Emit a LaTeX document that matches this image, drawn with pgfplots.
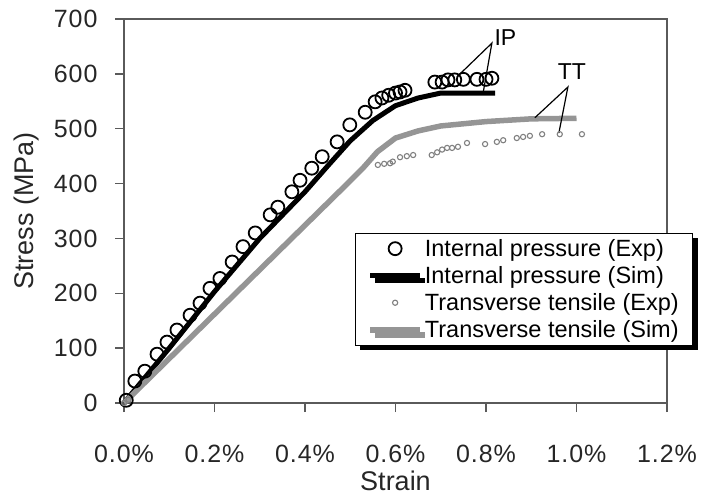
\documentclass[border=0pt]{standalone}
\usepackage{pgfplots}
\pgfplotsset{compat=1.18}
\usepackage{fontspec}
\setmainfont{Liberation Sans}
\usetikzlibrary{shadows}
\definecolor{axisgray}{HTML}{5A5A5A}
\definecolor{ttgray}{HTML}{959595}
\definecolor{ttexp}{HTML}{808080}
\begin{document}
\begin{tikzpicture}
\begin{axis}[
  scale only axis,
  width=543pt, height=384pt,
  xmin=0, xmax=1.2, ymin=0, ymax=700,
  xtick={0,0.2,0.4,0.6,0.8,1.0,1.2},
  xticklabels={0.0\%,0.2\%,0.4\%,0.6\%,0.8\%,1.0\%,1.2\%},
  ytick={0,100,200,300,400,500,600,700},
  /pgf/number format/assume math mode=true,
  tick pos=left,
  tick align=outside,
  major tick length=9pt,
  axis line style={axisgray, line width=1.3pt},
  every tick/.style={axisgray, line width=1.3pt},
  tick label style={font=\fontsize{25}{30}\selectfont\addfontfeatures{LetterSpace=4}, text=black!85},
  xticklabel style={yshift=-30pt},
  yticklabel style={xshift=-14pt},
  xlabel={Strain},
  ylabel={Stress (MPa)},
  every axis x label/.style={at={(axis description cs:0.5,-0.203)},anchor=center,font=\fontsize{27}{32}\selectfont, text=black!85},
  every axis y label/.style={at={(axis description cs:-0.179,0.5)},rotate=90,anchor=center,font=\fontsize{27}{32}\selectfont, text=black!85},
  clip=false,
  legend cell align=left,
  legend image code/.code={\draw[mark repeat=2,mark phase=2,#1] plot coordinates {(0pt,0pt) (25pt,0pt) (50pt,0pt)};},
  legend style={
    at={(rel axis cs:0.4254,0.4427)}, anchor=north west,
    draw=black, line width=0.8pt, fill=white,
    drop shadow={shadow xshift=5pt, shadow yshift=-5pt, fill=black, opacity=1},
    font=\fontsize{23.5}{28}\selectfont,
    inner xsep=12pt, inner ysep=4pt,
    row sep=4.5pt,
    /tikz/every even column/.append style={column sep=4pt},
  },
]
\addplot[only marks, mark=o, mark size=6.5pt, mark options={black, line width=1.8pt}] coordinates {
(0.005,5) (0.024,40) (0.046,58) (0.073,89) (0.095,111) (0.117,133) (0.146,160)
(0.168,182) (0.19,209) (0.212,227) (0.239,257) (0.263,285) (0.29,310) (0.323,343)
(0.34,357) (0.371,385) (0.389,406) (0.415,428) (0.438,449) (0.471,476) (0.499,507)
(0.533,530) (0.555,549) (0.57,556) (0.585,561) (0.60,565) (0.61,567) (0.621,570)
(0.687,585) (0.703,585) (0.716,589) (0.731,589) (0.75,590) (0.78,590) (0.80,590) (0.813,592)
};
\addlegendentry{Internal pressure (Exp)}
\addplot[black, line width=5pt] coordinates {
(0,0) (0.1,100) (0.2,203) (0.3,300) (0.4,385) (0.45,432) (0.5,478) (0.55,515)
(0.6,542) (0.65,556) (0.7,565) (0.82,565)
};
\addlegendentry{Internal pressure (Sim)}
\addplot[only marks, mark=o, mark size=2.6pt, mark options={ttexp, line width=1.1pt}] coordinates {
(0,0) (0.01,6) (0.561,434) (0.575,436) (0.588,437) (0.594,440) (0.61,448) (0.625,450)
(0.639,452) (0.68,452) (0.692,457) (0.703,462) (0.714,465) (0.725,465) (0.738,467)
(0.758,474) (0.798,472) (0.824,476) (0.838,479) (0.868,483) (0.882,485) (0.897,487)
(0.924,490) (0.963,490) (1.012,490)
};
\addlegendentry{Transverse tensile (Exp)}
\addplot[ttgray, line width=5.5pt] coordinates {
(0,0) (0.1,81) (0.2,162) (0.3,243) (0.4,324) (0.5,405) (0.53,430) (0.56,458)
(0.6,483) (0.65,496) (0.7,505) (0.8,513) (0.9,518) (1.0,519)
};
\addlegendentry{Transverse tensile (Sim)}
% annotations
\draw[black, line width=1.2pt] (axis cs:0.744,601) -- (axis cs:0.813,656) -- (axis cs:0.794,567);
\node[font=\fontsize{23}{27}\selectfont, anchor=south] at (axis cs:0.843,646) {IP};
\draw[black, line width=1.2pt] (axis cs:0.908,520) -- (axis cs:0.981,576) -- (axis cs:0.961,492);
\node[font=\fontsize{23}{27}\selectfont, anchor=south] at (axis cs:0.99,583) {TT};
\coordinate (O) at (rel axis cs:0,0);
\end{axis}
\pgfresetboundingbox
\path ([shift={(-124pt,-92pt)}]O) rectangle ([shift={(577pt,403pt)}]O);
\end{tikzpicture}
\end{document}
